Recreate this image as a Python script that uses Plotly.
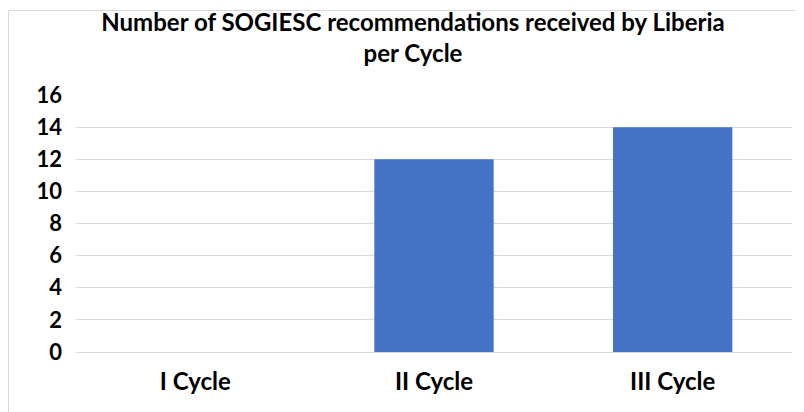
import plotly.graph_objects as go

categories = ["I Cycle", "II Cycle", "III Cycle"]
recommendations = [0, 12, 14]
y_ticks = [0, 2, 4, 6, 8, 10, 12, 14, 16]

# The page body has an 8px margin, so the figure is sized to fit the window.
W, H = 796, 404
L, R, T, B = 68, 12, 87, 60
PW, PH = W - L - R, H - T - B

fig = go.Figure(go.Bar(
    x=categories, y=recommendations,
    marker=dict(color="#4472C4", line=dict(width=0)),
    width=0.5,
))

bx = (0.5 - L) / PW
by = 1 + (T - 2.5) / PH

fig.update_layout(
    width=W, height=H,
    margin=dict(l=L, r=R, t=T, b=B),
    paper_bgcolor="white", plot_bgcolor="white",
    showlegend=False,
    title=dict(
        text="Number of SOGIESC recommendations received by Liberia<br>per Cycle",
        x=405 / W, xref="container", xanchor="center",
        y=1 - 23 / H, yref="container", yanchor="top",
        font=dict(family="Lato", size=24, color="black", weight="bold"),
    ),
    shapes=[
        dict(type="line", xref="paper", yref="paper",
             x0=bx, x1=1 + (R + 5) / PW, y0=by, y1=by,
             line=dict(color="#d9d9d9", width=1)),
        dict(type="line", xref="paper", yref="paper",
             x0=bx, x1=bx, y0=by, y1=-(B + 5) / PH,
             line=dict(color="#d9d9d9", width=1)),
    ],
)

fig.update_yaxes(
    range=[0, 16], tickvals=y_ticks, ticktext=[str(v) for v in y_ticks],
    showgrid=True, gridcolor="#d9d9d9", gridwidth=1,
    zeroline=False, showline=False,
    tickfont=dict(family="Lato", size=22, color="black", weight="bold"),
    ticklabelstandoff=13,
)
fig.update_xaxes(
    showline=True, linecolor="#d9d9d9", linewidth=1,
    showgrid=False,
    tickfont=dict(family="Lato", size=24, color="black", weight="bold"),
    ticklabelstandoff=8,
)

fig.write_html("out.html")
